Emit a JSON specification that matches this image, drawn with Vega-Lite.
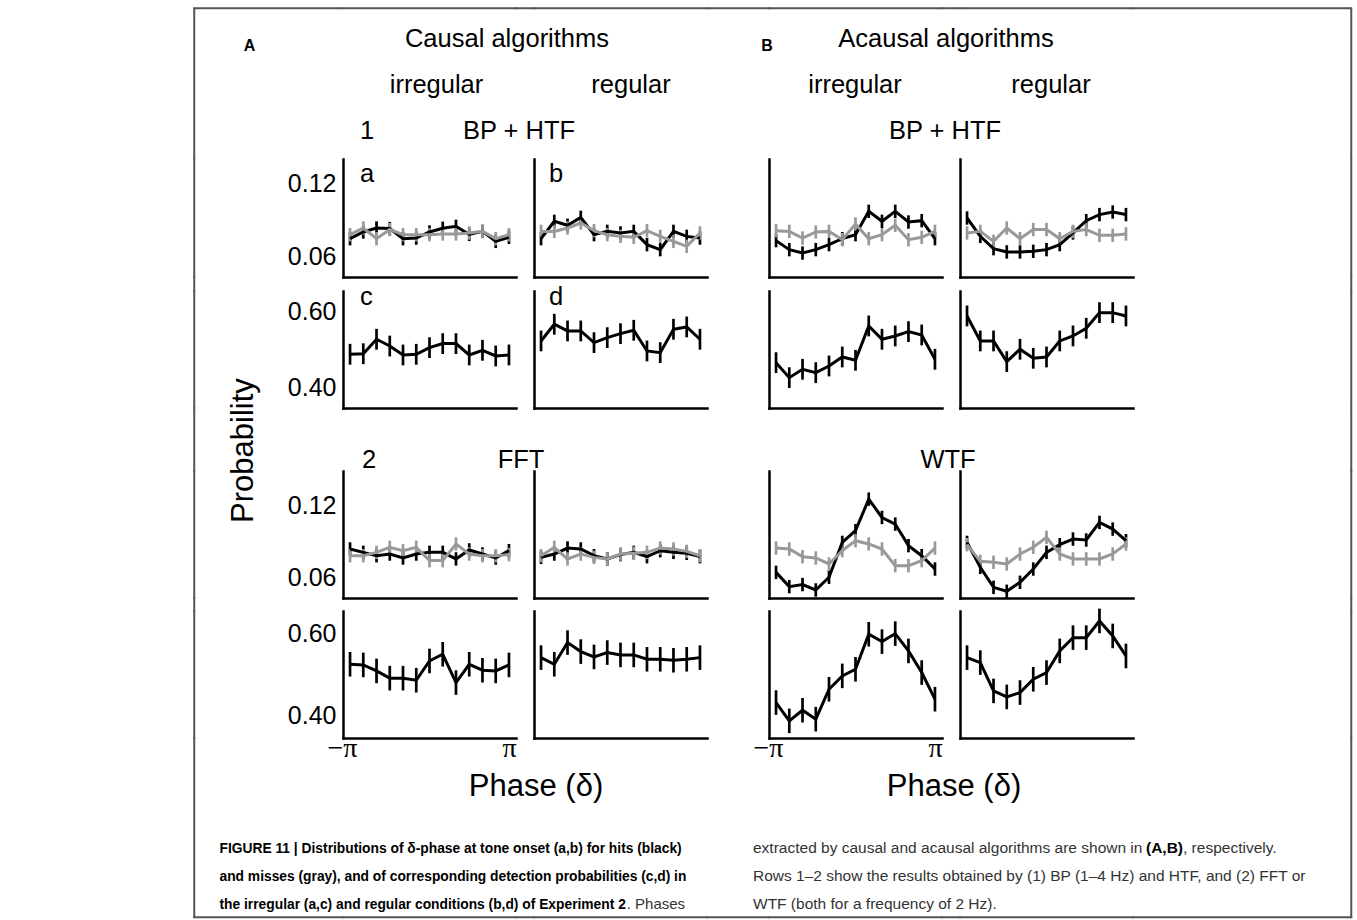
{
"$schema": "https://vega.github.io/schema/vega-lite/v6.json",
"padding": {"left": 193, "top": 7, "right": 5, "bottom": 0},
"background": "white",
"data": {"name": "d"},
"datasets": {"d": [
{"k":"A1a","g":"h","x":-3.1416,"y":0.0745,"e":0.0055},{"k":"A1a","g":"h","x":-2.618,"y":0.08,"e":0.0055},{"k":"A1a","g":"h","x":-2.0944,"y":0.0833,"e":0.0055},{"k":"A1a","g":"h","x":-1.5708,"y":0.0828,"e":0.0055},{"k":"A1a","g":"h","x":-1.0472,"y":0.0745,"e":0.0055},{"k":"A1a","g":"h","x":-0.5236,"y":0.075,"e":0.0055},{"k":"A1a","g":"h","x":0,"y":0.08,"e":0.0055},{"k":"A1a","g":"h","x":0.5236,"y":0.083,"e":0.0055},{"k":"A1a","g":"h","x":1.0472,"y":0.0847,"e":0.0055},{"k":"A1a","g":"h","x":1.5708,"y":0.078,"e":0.0055},{"k":"A1a","g":"h","x":2.0944,"y":0.0805,"e":0.0055},{"k":"A1a","g":"h","x":2.618,"y":0.0723,"e":0.0055},{"k":"A1a","g":"h","x":3.1416,"y":0.0756,"e":0.0055},
{"k":"A1a","g":"m","x":-3.1416,"y":0.0778,"e":0.0055},{"k":"A1a","g":"m","x":-2.618,"y":0.0833,"e":0.0055},{"k":"A1a","g":"m","x":-2.0944,"y":0.0745,"e":0.0055},{"k":"A1a","g":"m","x":-1.5708,"y":0.082,"e":0.0055},{"k":"A1a","g":"m","x":-1.0472,"y":0.0778,"e":0.0055},{"k":"A1a","g":"m","x":-0.5236,"y":0.0778,"e":0.0055},{"k":"A1a","g":"m","x":0,"y":0.0778,"e":0.0055},{"k":"A1a","g":"m","x":0.5236,"y":0.0784,"e":0.0055},{"k":"A1a","g":"m","x":1.0472,"y":0.0784,"e":0.0055},{"k":"A1a","g":"m","x":1.5708,"y":0.0792,"e":0.0055},{"k":"A1a","g":"m","x":2.0944,"y":0.0805,"e":0.0055},{"k":"A1a","g":"m","x":2.618,"y":0.0745,"e":0.0055},{"k":"A1a","g":"m","x":3.1416,"y":0.0778,"e":0.0055},
{"k":"A1b","g":"h","x":-3.1416,"y":0.0745,"e":0.0055},{"k":"A1b","g":"h","x":-2.618,"y":0.0888,"e":0.0055},{"k":"A1b","g":"h","x":-2.0944,"y":0.0855,"e":0.0055},{"k":"A1b","g":"h","x":-1.5708,"y":0.092,"e":0.0055},{"k":"A1b","g":"h","x":-1.0472,"y":0.0778,"e":0.0055},{"k":"A1b","g":"h","x":-0.5236,"y":0.0805,"e":0.0055},{"k":"A1b","g":"h","x":0,"y":0.0792,"e":0.0055},{"k":"A1b","g":"h","x":0.5236,"y":0.0805,"e":0.0055},{"k":"A1b","g":"h","x":1.0472,"y":0.0696,"e":0.0055},{"k":"A1b","g":"h","x":1.5708,"y":0.0655,"e":0.0055},{"k":"A1b","g":"h","x":2.0944,"y":0.0805,"e":0.0055},{"k":"A1b","g":"h","x":2.618,"y":0.0764,"e":0.0055},{"k":"A1b","g":"h","x":3.1416,"y":0.075,"e":0.0055},
{"k":"A1b","g":"m","x":-3.1416,"y":0.0805,"e":0.0055},{"k":"A1b","g":"m","x":-2.618,"y":0.0805,"e":0.0055},{"k":"A1b","g":"m","x":-2.0944,"y":0.0833,"e":0.0055},{"k":"A1b","g":"m","x":-1.5708,"y":0.0874,"e":0.0055},{"k":"A1b","g":"m","x":-1.0472,"y":0.0811,"e":0.0055},{"k":"A1b","g":"m","x":-0.5236,"y":0.0778,"e":0.0055},{"k":"A1b","g":"m","x":0,"y":0.0764,"e":0.0055},{"k":"A1b","g":"m","x":0.5236,"y":0.0756,"e":0.0055},{"k":"A1b","g":"m","x":1.0472,"y":0.0811,"e":0.0055},{"k":"A1b","g":"m","x":1.5708,"y":0.0764,"e":0.0055},{"k":"A1b","g":"m","x":2.0944,"y":0.0723,"e":0.0055},{"k":"A1b","g":"m","x":2.618,"y":0.0682,"e":0.0055},{"k":"A1b","g":"m","x":3.1416,"y":0.0792,"e":0.0055},
{"k":"B1a","g":"h","x":-3.1416,"y":0.0729,"e":0.0055},{"k":"B1a","g":"h","x":-2.618,"y":0.0655,"e":0.0055},{"k":"B1a","g":"h","x":-2.0944,"y":0.0627,"e":0.0055},{"k":"B1a","g":"h","x":-1.5708,"y":0.0655,"e":0.0055},{"k":"B1a","g":"h","x":-1.0472,"y":0.0696,"e":0.0055},{"k":"B1a","g":"h","x":-0.5236,"y":0.0745,"e":0.0055},{"k":"B1a","g":"h","x":0,"y":0.0778,"e":0.0055},{"k":"B1a","g":"h","x":0.5236,"y":0.097,"e":0.0055},{"k":"B1a","g":"h","x":1.0472,"y":0.0888,"e":0.0055},{"k":"B1a","g":"h","x":1.5708,"y":0.097,"e":0.0055},{"k":"B1a","g":"h","x":2.0944,"y":0.0882,"e":0.0055},{"k":"B1a","g":"h","x":2.618,"y":0.0893,"e":0.0055},{"k":"B1a","g":"h","x":3.1416,"y":0.0745,"e":0.0055},
{"k":"B1a","g":"m","x":-3.1416,"y":0.0811,"e":0.0055},{"k":"B1a","g":"m","x":-2.618,"y":0.0805,"e":0.0055},{"k":"B1a","g":"m","x":-2.0944,"y":0.075,"e":0.0055},{"k":"B1a","g":"m","x":-1.5708,"y":0.08,"e":0.0055},{"k":"B1a","g":"m","x":-1.0472,"y":0.0805,"e":0.0055},{"k":"B1a","g":"m","x":-0.5236,"y":0.0737,"e":0.0055},{"k":"B1a","g":"m","x":0,"y":0.0866,"e":0.0055},{"k":"B1a","g":"m","x":0.5236,"y":0.0745,"e":0.0055},{"k":"B1a","g":"m","x":1.0472,"y":0.0778,"e":0.0055},{"k":"B1a","g":"m","x":1.5708,"y":0.0855,"e":0.0055},{"k":"B1a","g":"m","x":2.0944,"y":0.0737,"e":0.0055},{"k":"B1a","g":"m","x":2.618,"y":0.0756,"e":0.0055},{"k":"B1a","g":"m","x":3.1416,"y":0.0805,"e":0.0055},
{"k":"B1b","g":"h","x":-3.1416,"y":0.0915,"e":0.0055},{"k":"B1b","g":"h","x":-2.618,"y":0.0764,"e":0.0055},{"k":"B1b","g":"h","x":-2.0944,"y":0.0663,"e":0.0055},{"k":"B1b","g":"h","x":-1.5708,"y":0.0636,"e":0.0055},{"k":"B1b","g":"h","x":-1.0472,"y":0.0636,"e":0.0055},{"k":"B1b","g":"h","x":-0.5236,"y":0.0641,"e":0.0055},{"k":"B1b","g":"h","x":0,"y":0.0655,"e":0.0055},{"k":"B1b","g":"h","x":0.5236,"y":0.0696,"e":0.0055},{"k":"B1b","g":"h","x":1.0472,"y":0.0792,"e":0.0055},{"k":"B1b","g":"h","x":1.5708,"y":0.0893,"e":0.0055},{"k":"B1b","g":"h","x":2.0944,"y":0.0943,"e":0.0055},{"k":"B1b","g":"h","x":2.618,"y":0.0964,"e":0.0055},{"k":"B1b","g":"h","x":3.1416,"y":0.0943,"e":0.0055},
{"k":"B1b","g":"m","x":-3.1416,"y":0.0792,"e":0.0055},{"k":"B1b","g":"m","x":-2.618,"y":0.0805,"e":0.0055},{"k":"B1b","g":"m","x":-2.0944,"y":0.0723,"e":0.0055},{"k":"B1b","g":"m","x":-1.5708,"y":0.0833,"e":0.0055},{"k":"B1b","g":"m","x":-1.0472,"y":0.0745,"e":0.0055},{"k":"B1b","g":"m","x":-0.5236,"y":0.082,"e":0.0055},{"k":"B1b","g":"m","x":0,"y":0.082,"e":0.0055},{"k":"B1b","g":"m","x":0.5236,"y":0.0745,"e":0.0055},{"k":"B1b","g":"m","x":1.0472,"y":0.0805,"e":0.0055},{"k":"B1b","g":"m","x":1.5708,"y":0.082,"e":0.0055},{"k":"B1b","g":"m","x":2.0944,"y":0.0773,"e":0.0055},{"k":"B1b","g":"m","x":2.618,"y":0.0773,"e":0.0055},{"k":"B1b","g":"m","x":3.1416,"y":0.0784,"e":0.0055},
{"k":"A2a","g":"h","x":-3.1416,"y":0.4876,"e":0.027},{"k":"A2a","g":"h","x":-2.618,"y":0.489,"e":0.027},{"k":"A2a","g":"h","x":-2.0944,"y":0.5266,"e":0.027},{"k":"A2a","g":"h","x":-1.5708,"y":0.509,"e":0.027},{"k":"A2a","g":"h","x":-1.0472,"y":0.4858,"e":0.027},{"k":"A2a","g":"h","x":-0.5236,"y":0.4876,"e":0.027},{"k":"A2a","g":"h","x":0,"y":0.5048,"e":0.027},{"k":"A2a","g":"h","x":0.5236,"y":0.5153,"e":0.027},{"k":"A2a","g":"h","x":1.0472,"y":0.5153,"e":0.027},{"k":"A2a","g":"h","x":1.5708,"y":0.4858,"e":0.027},{"k":"A2a","g":"h","x":2.0944,"y":0.498,"e":0.027},{"k":"A2a","g":"h","x":2.618,"y":0.4832,"e":0.027},{"k":"A2a","g":"h","x":3.1416,"y":0.4858,"e":0.027},
{"k":"A2b","g":"h","x":-3.1416,"y":0.5222,"e":0.027},{"k":"A2b","g":"h","x":-2.618,"y":0.5656,"e":0.027},{"k":"A2b","g":"h","x":-2.0944,"y":0.5482,"e":0.027},{"k":"A2b","g":"h","x":-1.5708,"y":0.5482,"e":0.027},{"k":"A2b","g":"h","x":-1.0472,"y":0.5178,"e":0.027},{"k":"A2b","g":"h","x":-0.5236,"y":0.5308,"e":0.027},{"k":"A2b","g":"h","x":0,"y":0.5412,"e":0.027},{"k":"A2b","g":"h","x":0.5236,"y":0.55,"e":0.027},{"k":"A2b","g":"h","x":1.0472,"y":0.4962,"e":0.027},{"k":"A2b","g":"h","x":1.5708,"y":0.4918,"e":0.027},{"k":"A2b","g":"h","x":2.0944,"y":0.5526,"e":0.027},{"k":"A2b","g":"h","x":2.618,"y":0.5586,"e":0.027},{"k":"A2b","g":"h","x":3.1416,"y":0.5266,"e":0.027},
{"k":"B2a","g":"h","x":-3.1416,"y":0.4658,"e":0.027},{"k":"B2a","g":"h","x":-2.618,"y":0.4268,"e":0.027},{"k":"B2a","g":"h","x":-2.0944,"y":0.4486,"e":0.027},{"k":"B2a","g":"h","x":-1.5708,"y":0.4398,"e":0.027},{"k":"B2a","g":"h","x":-1.0472,"y":0.4572,"e":0.027},{"k":"B2a","g":"h","x":-0.5236,"y":0.4806,"e":0.027},{"k":"B2a","g":"h","x":0,"y":0.472,"e":0.027},{"k":"B2a","g":"h","x":0.5236,"y":0.5612,"e":0.027},{"k":"B2a","g":"h","x":1.0472,"y":0.5266,"e":0.027},{"k":"B2a","g":"h","x":1.5708,"y":0.5352,"e":0.027},{"k":"B2a","g":"h","x":2.0944,"y":0.5464,"e":0.027},{"k":"B2a","g":"h","x":2.618,"y":0.5378,"e":0.027},{"k":"B2a","g":"h","x":3.1416,"y":0.4746,"e":0.027},
{"k":"B2b","g":"h","x":-3.1416,"y":0.5872,"e":0.027},{"k":"B2b","g":"h","x":-2.618,"y":0.5222,"e":0.027},{"k":"B2b","g":"h","x":-2.0944,"y":0.5222,"e":0.027},{"k":"B2b","g":"h","x":-1.5708,"y":0.4684,"e":0.027},{"k":"B2b","g":"h","x":-1.0472,"y":0.5006,"e":0.027},{"k":"B2b","g":"h","x":-0.5236,"y":0.4772,"e":0.027},{"k":"B2b","g":"h","x":0,"y":0.4806,"e":0.027},{"k":"B2b","g":"h","x":0.5236,"y":0.5222,"e":0.027},{"k":"B2b","g":"h","x":1.0472,"y":0.5352,"e":0.027},{"k":"B2b","g":"h","x":1.5708,"y":0.5552,"e":0.027},{"k":"B2b","g":"h","x":2.0944,"y":0.5958,"e":0.027},{"k":"B2b","g":"h","x":2.618,"y":0.5958,"e":0.027},{"k":"B2b","g":"h","x":3.1416,"y":0.5872,"e":0.027},
{"k":"A3a","g":"h","x":-3.1416,"y":0.0839,"e":0.0056},{"k":"A3a","g":"h","x":-2.618,"y":0.0811,"e":0.0056},{"k":"A3a","g":"h","x":-2.0944,"y":0.0783,"e":0.0056},{"k":"A3a","g":"h","x":-1.5708,"y":0.0797,"e":0.0056},{"k":"A3a","g":"h","x":-1.0472,"y":0.0764,"e":0.0056},{"k":"A3a","g":"h","x":-0.5236,"y":0.0797,"e":0.0056},{"k":"A3a","g":"h","x":0,"y":0.0811,"e":0.0056},{"k":"A3a","g":"h","x":0.5236,"y":0.0811,"e":0.0056},{"k":"A3a","g":"h","x":1.0472,"y":0.0756,"e":0.0056},{"k":"A3a","g":"h","x":1.5708,"y":0.0831,"e":0.0056},{"k":"A3a","g":"h","x":2.0944,"y":0.0797,"e":0.0056},{"k":"A3a","g":"h","x":2.618,"y":0.0764,"e":0.0056},{"k":"A3a","g":"h","x":3.1416,"y":0.0825,"e":0.0056},
{"k":"A3a","g":"m","x":-3.1416,"y":0.0783,"e":0.0056},{"k":"A3a","g":"m","x":-2.618,"y":0.0783,"e":0.0056},{"k":"A3a","g":"m","x":-2.0944,"y":0.0811,"e":0.0056},{"k":"A3a","g":"m","x":-1.5708,"y":0.0853,"e":0.0056},{"k":"A3a","g":"m","x":-1.0472,"y":0.0825,"e":0.0056},{"k":"A3a","g":"m","x":-0.5236,"y":0.0853,"e":0.0056},{"k":"A3a","g":"m","x":0,"y":0.0742,"e":0.0056},{"k":"A3a","g":"m","x":0.5236,"y":0.0742,"e":0.0056},{"k":"A3a","g":"m","x":1.0472,"y":0.0881,"e":0.0056},{"k":"A3a","g":"m","x":1.5708,"y":0.0797,"e":0.0056},{"k":"A3a","g":"m","x":2.0944,"y":0.0783,"e":0.0056},{"k":"A3a","g":"m","x":2.618,"y":0.0783,"e":0.0056},{"k":"A3a","g":"m","x":3.1416,"y":0.0792,"e":0.0056},
{"k":"A3b","g":"h","x":-3.1416,"y":0.0769,"e":0.0056},{"k":"A3b","g":"h","x":-2.618,"y":0.0797,"e":0.0056},{"k":"A3b","g":"h","x":-2.0944,"y":0.0847,"e":0.0056},{"k":"A3b","g":"h","x":-1.5708,"y":0.0839,"e":0.0056},{"k":"A3b","g":"h","x":-1.0472,"y":0.0783,"e":0.0056},{"k":"A3b","g":"h","x":-0.5236,"y":0.0756,"e":0.0056},{"k":"A3b","g":"h","x":0,"y":0.0792,"e":0.0056},{"k":"A3b","g":"h","x":0.5236,"y":0.0811,"e":0.0056},{"k":"A3b","g":"h","x":1.0472,"y":0.0775,"e":0.0056},{"k":"A3b","g":"h","x":1.5708,"y":0.0825,"e":0.0056},{"k":"A3b","g":"h","x":2.0944,"y":0.0811,"e":0.0056},{"k":"A3b","g":"h","x":2.618,"y":0.0803,"e":0.0056},{"k":"A3b","g":"h","x":3.1416,"y":0.0775,"e":0.0056},
{"k":"A3b","g":"m","x":-3.1416,"y":0.0783,"e":0.0056},{"k":"A3b","g":"m","x":-2.618,"y":0.0853,"e":0.0056},{"k":"A3b","g":"m","x":-2.0944,"y":0.0756,"e":0.0056},{"k":"A3b","g":"m","x":-1.5708,"y":0.0797,"e":0.0056},{"k":"A3b","g":"m","x":-1.0472,"y":0.0769,"e":0.0056},{"k":"A3b","g":"m","x":-0.5236,"y":0.0756,"e":0.0056},{"k":"A3b","g":"m","x":0,"y":0.0797,"e":0.0056},{"k":"A3b","g":"m","x":0.5236,"y":0.0803,"e":0.0056},{"k":"A3b","g":"m","x":1.0472,"y":0.0811,"e":0.0056},{"k":"A3b","g":"m","x":1.5708,"y":0.0847,"e":0.0056},{"k":"A3b","g":"m","x":2.0944,"y":0.0839,"e":0.0056},{"k":"A3b","g":"m","x":2.618,"y":0.0819,"e":0.0056},{"k":"A3b","g":"m","x":3.1416,"y":0.0783,"e":0.0056},
{"k":"B3a","g":"h","x":-3.1416,"y":0.0644,"e":0.0056},{"k":"B3a","g":"h","x":-2.618,"y":0.0525,"e":0.0056},{"k":"B3a","g":"h","x":-2.0944,"y":0.0542,"e":0.0056},{"k":"B3a","g":"h","x":-1.5708,"y":0.0497,"e":0.0056},{"k":"B3a","g":"h","x":-1.0472,"y":0.0603,"e":0.0056},{"k":"B3a","g":"h","x":-0.5236,"y":0.0894,"e":0.0056},{"k":"B3a","g":"h","x":0,"y":0.0992,"e":0.0056},{"k":"B3a","g":"h","x":0.5236,"y":0.1255,"e":0.0056},{"k":"B3a","g":"h","x":1.0472,"y":0.1102,"e":0.0056},{"k":"B3a","g":"h","x":1.5708,"y":0.1047,"e":0.0056},{"k":"B3a","g":"h","x":2.0944,"y":0.0867,"e":0.0056},{"k":"B3a","g":"h","x":2.618,"y":0.0783,"e":0.0056},{"k":"B3a","g":"h","x":3.1416,"y":0.0672,"e":0.0056},
{"k":"B3a","g":"m","x":-3.1416,"y":0.0847,"e":0.0056},{"k":"B3a","g":"m","x":-2.618,"y":0.0839,"e":0.0056},{"k":"B3a","g":"m","x":-2.0944,"y":0.0775,"e":0.0056},{"k":"B3a","g":"m","x":-1.5708,"y":0.0764,"e":0.0056},{"k":"B3a","g":"m","x":-1.0472,"y":0.0714,"e":0.0056},{"k":"B3a","g":"m","x":-0.5236,"y":0.0825,"e":0.0056},{"k":"B3a","g":"m","x":0,"y":0.0908,"e":0.0056},{"k":"B3a","g":"m","x":0.5236,"y":0.0881,"e":0.0056},{"k":"B3a","g":"m","x":1.0472,"y":0.0839,"e":0.0056},{"k":"B3a","g":"m","x":1.5708,"y":0.07,"e":0.0056},{"k":"B3a","g":"m","x":2.0944,"y":0.07,"e":0.0056},{"k":"B3a","g":"m","x":2.618,"y":0.0742,"e":0.0056},{"k":"B3a","g":"m","x":3.1416,"y":0.0847,"e":0.0056},
{"k":"B3b","g":"h","x":-3.1416,"y":0.0894,"e":0.0056},{"k":"B3b","g":"h","x":-2.618,"y":0.0686,"e":0.0056},{"k":"B3b","g":"h","x":-2.0944,"y":0.0519,"e":0.0056},{"k":"B3b","g":"h","x":-1.5708,"y":0.0486,"e":0.0056},{"k":"B3b","g":"h","x":-1.0472,"y":0.0561,"e":0.0056},{"k":"B3b","g":"h","x":-0.5236,"y":0.0672,"e":0.0056},{"k":"B3b","g":"h","x":0,"y":0.0811,"e":0.0056},{"k":"B3b","g":"h","x":0.5236,"y":0.0875,"e":0.0056},{"k":"B3b","g":"h","x":1.0472,"y":0.0922,"e":0.0056},{"k":"B3b","g":"h","x":1.5708,"y":0.0914,"e":0.0056},{"k":"B3b","g":"h","x":2.0944,"y":0.1061,"e":0.0056},{"k":"B3b","g":"h","x":2.618,"y":0.1005,"e":0.0056},{"k":"B3b","g":"h","x":3.1416,"y":0.0908,"e":0.0056},
{"k":"B3b","g":"m","x":-3.1416,"y":0.0875,"e":0.0056},{"k":"B3b","g":"m","x":-2.618,"y":0.0736,"e":0.0056},{"k":"B3b","g":"m","x":-2.0944,"y":0.0728,"e":0.0056},{"k":"B3b","g":"m","x":-1.5708,"y":0.0714,"e":0.0056},{"k":"B3b","g":"m","x":-1.0472,"y":0.0797,"e":0.0056},{"k":"B3b","g":"m","x":-0.5236,"y":0.0853,"e":0.0056},{"k":"B3b","g":"m","x":0,"y":0.0936,"e":0.0056},{"k":"B3b","g":"m","x":0.5236,"y":0.0797,"e":0.0056},{"k":"B3b","g":"m","x":1.0472,"y":0.0756,"e":0.0056},{"k":"B3b","g":"m","x":1.5708,"y":0.0756,"e":0.0056},{"k":"B3b","g":"m","x":2.0944,"y":0.0756,"e":0.0056},{"k":"B3b","g":"m","x":2.618,"y":0.0797,"e":0.0056},{"k":"B3b","g":"m","x":3.1416,"y":0.0881,"e":0.0056},
{"k":"A4a","g":"h","x":-3.1416,"y":0.526,"e":0.03},{"k":"A4a","g":"h","x":-2.618,"y":0.5244,"e":0.03},{"k":"A4a","g":"h","x":-2.0944,"y":0.5098,"e":0.03},{"k":"A4a","g":"h","x":-1.5708,"y":0.492,"e":0.03},{"k":"A4a","g":"h","x":-1.0472,"y":0.492,"e":0.03},{"k":"A4a","g":"h","x":-0.5236,"y":0.487,"e":0.03},{"k":"A4a","g":"h","x":0,"y":0.5341,"e":0.03},{"k":"A4a","g":"h","x":0.5236,"y":0.5504,"e":0.03},{"k":"A4a","g":"h","x":1.0472,"y":0.4813,"e":0.03},{"k":"A4a","g":"h","x":1.5708,"y":0.526,"e":0.03},{"k":"A4a","g":"h","x":2.0944,"y":0.5114,"e":0.03},{"k":"A4a","g":"h","x":2.618,"y":0.5098,"e":0.03},{"k":"A4a","g":"h","x":3.1416,"y":0.5244,"e":0.03},
{"k":"A4b","g":"h","x":-3.1416,"y":0.5422,"e":0.03},{"k":"A4b","g":"h","x":-2.618,"y":0.526,"e":0.03},{"k":"A4b","g":"h","x":-2.0944,"y":0.5789,"e":0.03},{"k":"A4b","g":"h","x":-1.5708,"y":0.5569,"e":0.03},{"k":"A4b","g":"h","x":-1.0472,"y":0.5439,"e":0.03},{"k":"A4b","g":"h","x":-0.5236,"y":0.5545,"e":0.03},{"k":"A4b","g":"h","x":0,"y":0.5488,"e":0.03},{"k":"A4b","g":"h","x":0.5236,"y":0.5488,"e":0.03},{"k":"A4b","g":"h","x":1.0472,"y":0.5382,"e":0.03},{"k":"A4b","g":"h","x":1.5708,"y":0.5382,"e":0.03},{"k":"A4b","g":"h","x":2.0944,"y":0.5358,"e":0.03},{"k":"A4b","g":"h","x":2.618,"y":0.5382,"e":0.03},{"k":"A4b","g":"h","x":3.1416,"y":0.5422,"e":0.03},
{"k":"B4a","g":"h","x":-3.1416,"y":0.4325,"e":0.03},{"k":"B4a","g":"h","x":-2.618,"y":0.3878,"e":0.03},{"k":"B4a","g":"h","x":-2.0944,"y":0.4138,"e":0.03},{"k":"B4a","g":"h","x":-1.5708,"y":0.3919,"e":0.03},{"k":"B4a","g":"h","x":-1.0472,"y":0.465,"e":0.03},{"k":"B4a","g":"h","x":-0.5236,"y":0.4976,"e":0.03},{"k":"B4a","g":"h","x":0,"y":0.5138,"e":0.03},{"k":"B4a","g":"h","x":0.5236,"y":0.5992,"e":0.03},{"k":"B4a","g":"h","x":1.0472,"y":0.5813,"e":0.03},{"k":"B4a","g":"h","x":1.5708,"y":0.6008,"e":0.03},{"k":"B4a","g":"h","x":2.0944,"y":0.5585,"e":0.03},{"k":"B4a","g":"h","x":2.618,"y":0.5057,"e":0.03},{"k":"B4a","g":"h","x":3.1416,"y":0.4407,"e":0.03},
{"k":"B4b","g":"h","x":-3.1416,"y":0.5422,"e":0.03},{"k":"B4b","g":"h","x":-2.618,"y":0.53,"e":0.03},{"k":"B4b","g":"h","x":-2.0944,"y":0.461,"e":0.03},{"k":"B4b","g":"h","x":-1.5708,"y":0.4463,"e":0.03},{"k":"B4b","g":"h","x":-1.0472,"y":0.4569,"e":0.03},{"k":"B4b","g":"h","x":-0.5236,"y":0.4894,"e":0.03},{"k":"B4b","g":"h","x":0,"y":0.5057,"e":0.03},{"k":"B4b","g":"h","x":0.5236,"y":0.5585,"e":0.03},{"k":"B4b","g":"h","x":1.0472,"y":0.591,"e":0.03},{"k":"B4b","g":"h","x":1.5708,"y":0.591,"e":0.03},{"k":"B4b","g":"h","x":2.0944,"y":0.6317,"e":0.03},{"k":"B4b","g":"h","x":2.618,"y":0.5951,"e":0.03},{"k":"B4b","g":"h","x":3.1416,"y":0.5463,"e":0.03}
]},
"config": {
  "view": {"stroke": null},
  "axis": {"domainColor": "#000000", "domainWidth": 2.5, "domainCap": "square", "ticks": false, "grid": false, "labels": false, "labelColor": "#000000", "labelFont": "Liberation Sans", "labelFontSize": 25, "labelPadding": 7, "labelFlush": false, "labelOverlap": false},
  "title": {"font": "Liberation Sans", "fontSize": 25.5, "fontWeight": "normal", "color": "#000000", "baseline": "alphabetic", "frame": "group"},
  "text": {"font": "Liberation Sans", "fontSize": 25.5, "color": "#000000", "baseline": "alphabetic"},
  "concat": {"spacing": 0}
},
"columns": 11,
"spacing": 0,
"bounds": "flush",
"align": "each",
"concat": [
{"width":0.5,"height":0.5,"data":{"values":[]},"mark":"text","view":{"stroke":"#555555","strokeWidth":1.5}},
{"width":147.5,"height":0.5,"data":{"values":[]},"mark":"text","view":{"stroke":"#555555","strokeWidth":1.5}},
{"width":173,"height":0.5,"data":{"values":[]},"mark":"text","view":{"stroke":"#555555","strokeWidth":1.5}},
{"width":18,"height":0.5,"data":{"values":[]},"mark":"text","view":{"stroke":"#555555","strokeWidth":1.5}},
{"width":173,"height":0.5,"data":{"values":[]},"mark":"text","view":{"stroke":"#555555","strokeWidth":1.5}},
{"width":62,"height":0.5,"data":{"values":[]},"mark":"text","view":{"stroke":"#555555","strokeWidth":1.5}},
{"width":173,"height":0.5,"data":{"values":[]},"mark":"text","view":{"stroke":"#555555","strokeWidth":1.5}},
{"width":18,"height":0.5,"data":{"values":[]},"mark":"text","view":{"stroke":"#555555","strokeWidth":1.5}},
{"width":173,"height":0.5,"data":{"values":[]},"mark":"text","view":{"stroke":"#555555","strokeWidth":1.5}},
{"width":217.5,"height":0.5,"data":{"values":[]},"mark":"text","view":{"stroke":"#555555","strokeWidth":1.5}},
{"width":0.5,"height":0.5,"data":{"values":[]},"mark":"text","view":{"stroke":"#555555","strokeWidth":1.5}},

{"width":0.5,"height":149.5,"data":{"values":[]},"mark":"text","view":{"stroke":"#555555","strokeWidth":1.5}},
{"width":147.5,"height":149.5,"data":{"values":[{}]},"mark":{"type":"text","text":"A","fontWeight":"bold","fontSize":16,"dx":-19.25,"dy":-33.25}},
{"width":173,"height":149.5,"data":{"values":[{}]},"layer":[{"mark":{"type":"text","text":"irregular","dx":7,"dy":9.45}},{"mark":{"type":"text","text":"1","dx":-62.5,"dy":54.75}}]},
{"width":18,"height":149.5,"data":{"values":[{}]},"layer":[{"mark":{"type":"text","text":"Causal algorithms","dx":-18,"dy":-36.55}},{"mark":{"type":"text","text":"BP + HTF","dx":-6,"dy":54.75}}]},
{"width":173,"height":149.5,"data":{"values":[{}]},"mark":{"type":"text","text":"regular","dx":10.5,"dy":9.45}},
{"width":62,"height":149.5,"data":{"values":[{}]},"mark":{"type":"text","text":"B","fontWeight":"bold","fontSize":16,"dx":29,"dy":-33.25}},
{"width":173,"height":149.5,"data":{"values":[{}]},"mark":{"type":"text","text":"irregular","dx":-0.5,"dy":9.45}},
{"width":18,"height":149.5,"data":{"values":[{}]},"layer":[{"mark":{"type":"text","text":"Acausal algorithms","dx":-5,"dy":-36.55}},{"mark":{"type":"text","text":"BP + HTF","dx":-6,"dy":54.75}}]},
{"width":173,"height":149.5,"data":{"values":[{}]},"mark":{"type":"text","text":"regular","dx":4.5,"dy":9.45}},
{"width":1,"height":1,"data":{"values":[]},"mark":"text"},
{"width":0.5,"height":149.5,"data":{"values":[]},"mark":"text","view":{"stroke":"#555555","strokeWidth":1.5}},

{"width":0.5,"height":118,"data":{"values":[]},"mark":"text","view":{"stroke":"#555555","strokeWidth":1.5}},
{"width":1,"height":1,"data":{"values":[]},"mark":"text"},
{"width":173,"height":118,"title":{"text":"a","anchor":"start","dx":17,"offset":-28.25},"transform":[{"filter":"datum.k === 'A1a'"}],"encoding":{"x":{"field":"x","type":"quantitative","title":null,"scale":{"domain":[-3.42,3.42]}},"y":{"field":"y","type":"quantitative","title":null,"scale":{"domain":[0.043,0.14]},"axis":{"labels":true,"values":[0.06,0.12],"format":".2f"}},"color":{"field":"g","type":"nominal","legend":null,"scale":{"domain":["h","m"],"range":["#000000","#999999"]}}},"layer":[{"mark":{"type":"errorbar","thickness":2.7},"encoding":{"yError":{"field":"e"}}},{"mark":{"type":"line","strokeWidth":3}}]},
{"width":1,"height":1,"data":{"values":[]},"mark":"text"},
{"width":173,"height":118,"title":{"text":"b","anchor":"start","dx":15,"offset":-28.25},"transform":[{"filter":"datum.k === 'A1b'"}],"encoding":{"x":{"field":"x","type":"quantitative","title":null,"scale":{"domain":[-3.42,3.42]}},"y":{"field":"y","type":"quantitative","title":null,"scale":{"domain":[0.043,0.14]}},"color":{"field":"g","type":"nominal","legend":null,"scale":{"domain":["h","m"],"range":["#000000","#999999"]}}},"layer":[{"mark":{"type":"errorbar","thickness":2.7},"encoding":{"yError":{"field":"e"}}},{"mark":{"type":"line","strokeWidth":3}}]},
{"width":1,"height":1,"data":{"values":[]},"mark":"text"},
{"width":173,"height":118,"transform":[{"filter":"datum.k === 'B1a'"}],"encoding":{"x":{"field":"x","type":"quantitative","title":null,"scale":{"domain":[-3.42,3.42]}},"y":{"field":"y","type":"quantitative","title":null,"scale":{"domain":[0.043,0.14]}},"color":{"field":"g","type":"nominal","legend":null,"scale":{"domain":["h","m"],"range":["#000000","#999999"]}}},"layer":[{"mark":{"type":"errorbar","thickness":2.7},"encoding":{"yError":{"field":"e"}}},{"mark":{"type":"line","strokeWidth":3}}]},
{"width":1,"height":1,"data":{"values":[]},"mark":"text"},
{"width":173,"height":118,"transform":[{"filter":"datum.k === 'B1b'"}],"encoding":{"x":{"field":"x","type":"quantitative","title":null,"scale":{"domain":[-3.42,3.42]}},"y":{"field":"y","type":"quantitative","title":null,"scale":{"domain":[0.043,0.14]}},"color":{"field":"g","type":"nominal","legend":null,"scale":{"domain":["h","m"],"range":["#000000","#999999"]}}},"layer":[{"mark":{"type":"errorbar","thickness":2.7},"encoding":{"yError":{"field":"e"}}},{"mark":{"type":"line","strokeWidth":3}}]},
{"width":1,"height":1,"data":{"values":[]},"mark":"text"},
{"width":0.5,"height":118,"data":{"values":[]},"mark":"text","view":{"stroke":"#555555","strokeWidth":1.5}},

{"width":0.5,"height":14,"data":{"values":[]},"mark":"text","view":{"stroke":"#555555","strokeWidth":1.5}},
{"width":1,"height":1,"data":{"values":[]},"mark":"text"},
{"width":1,"height":1,"data":{"values":[]},"mark":"text"},
{"width":1,"height":1,"data":{"values":[]},"mark":"text"},
{"width":1,"height":1,"data":{"values":[]},"mark":"text"},
{"width":1,"height":1,"data":{"values":[]},"mark":"text"},
{"width":1,"height":1,"data":{"values":[]},"mark":"text"},
{"width":1,"height":1,"data":{"values":[]},"mark":"text"},
{"width":1,"height":1,"data":{"values":[]},"mark":"text"},
{"width":1,"height":1,"data":{"values":[]},"mark":"text"},
{"width":0.5,"height":14,"data":{"values":[]},"mark":"text","view":{"stroke":"#555555","strokeWidth":1.5}},

{"width":0.5,"height":117,"data":{"values":[]},"mark":"text","view":{"stroke":"#555555","strokeWidth":1.5}},
{"width":1,"height":1,"data":{"values":[]},"mark":"text"},
{"width":173,"height":117,"title":{"text":"c","anchor":"start","dx":17,"offset":-19.25},"transform":[{"filter":"datum.k === 'A2a'"}],"encoding":{"x":{"field":"x","type":"quantitative","title":null,"scale":{"domain":[-3.42,3.42]}},"y":{"field":"y","type":"quantitative","title":null,"scale":{"domain":[0.348,0.652]},"axis":{"labels":true,"values":[0.4,0.6],"format":".2f"}},"color":{"field":"g","type":"nominal","legend":null,"scale":{"domain":["h","m"],"range":["#000000","#999999"]}}},"layer":[{"mark":{"type":"errorbar","thickness":2.7},"encoding":{"yError":{"field":"e"}}},{"mark":{"type":"line","strokeWidth":3}}]},
{"width":1,"height":1,"data":{"values":[]},"mark":"text"},
{"width":173,"height":117,"title":{"text":"d","anchor":"start","dx":15,"offset":-19.25},"transform":[{"filter":"datum.k === 'A2b'"}],"encoding":{"x":{"field":"x","type":"quantitative","title":null,"scale":{"domain":[-3.42,3.42]}},"y":{"field":"y","type":"quantitative","title":null,"scale":{"domain":[0.348,0.652]}},"color":{"field":"g","type":"nominal","legend":null,"scale":{"domain":["h","m"],"range":["#000000","#999999"]}}},"layer":[{"mark":{"type":"errorbar","thickness":2.7},"encoding":{"yError":{"field":"e"}}},{"mark":{"type":"line","strokeWidth":3}}]},
{"width":1,"height":1,"data":{"values":[]},"mark":"text"},
{"width":173,"height":117,"transform":[{"filter":"datum.k === 'B2a'"}],"encoding":{"x":{"field":"x","type":"quantitative","title":null,"scale":{"domain":[-3.42,3.42]}},"y":{"field":"y","type":"quantitative","title":null,"scale":{"domain":[0.348,0.652]}},"color":{"field":"g","type":"nominal","legend":null,"scale":{"domain":["h","m"],"range":["#000000","#999999"]}}},"layer":[{"mark":{"type":"errorbar","thickness":2.7},"encoding":{"yError":{"field":"e"}}},{"mark":{"type":"line","strokeWidth":3}}]},
{"width":1,"height":1,"data":{"values":[]},"mark":"text"},
{"width":173,"height":117,"transform":[{"filter":"datum.k === 'B2b'"}],"encoding":{"x":{"field":"x","type":"quantitative","title":null,"scale":{"domain":[-3.42,3.42]}},"y":{"field":"y","type":"quantitative","title":null,"scale":{"domain":[0.348,0.652]}},"color":{"field":"g","type":"nominal","legend":null,"scale":{"domain":["h","m"],"range":["#000000","#999999"]}}},"layer":[{"mark":{"type":"errorbar","thickness":2.7},"encoding":{"yError":{"field":"e"}}},{"mark":{"type":"line","strokeWidth":3}}]},
{"width":1,"height":1,"data":{"values":[]},"mark":"text"},
{"width":0.5,"height":117,"data":{"values":[]},"mark":"text","view":{"stroke":"#555555","strokeWidth":1.5}},

{"width":0.5,"height":63,"data":{"values":[]},"mark":"text","view":{"stroke":"#555555","strokeWidth":1.5}},
{"width":147.5,"height":63,"data":{"values":[{}]},"mark":{"type":"text","text":"Probability","angle":270,"fontSize":31,"dx":-11,"dy":-16.25}},
{"width":173,"height":63,"data":{"values":[{}]},"mark":{"type":"text","text":"2","dx":-60.5,"dy":28.5}},
{"width":18,"height":63,"data":{"values":[{}]},"mark":{"type":"text","text":"FFT","dx":-4,"dy":28.5}},
{"width":1,"height":1,"data":{"values":[]},"mark":"text"},
{"width":1,"height":1,"data":{"values":[]},"mark":"text"},
{"width":1,"height":1,"data":{"values":[]},"mark":"text"},
{"width":18,"height":63,"data":{"values":[{}]},"mark":{"type":"text","text":"WTF","dx":-3,"dy":28.5}},
{"width":1,"height":1,"data":{"values":[]},"mark":"text"},
{"width":1,"height":1,"data":{"values":[]},"mark":"text"},
{"width":0.5,"height":63,"data":{"values":[]},"mark":"text","view":{"stroke":"#555555","strokeWidth":1.5}},

{"width":0.5,"height":127,"data":{"values":[]},"mark":"text","view":{"stroke":"#555555","strokeWidth":1.5}},
{"width":1,"height":1,"data":{"values":[]},"mark":"text"},
{"width":173,"height":127,"transform":[{"filter":"datum.k === 'A3a'"}],"encoding":{"x":{"field":"x","type":"quantitative","title":null,"scale":{"domain":[-3.42,3.42]}},"y":{"field":"y","type":"quantitative","title":null,"scale":{"domain":[0.043,0.149]},"axis":{"labels":true,"values":[0.06,0.12],"format":".2f"}},"color":{"field":"g","type":"nominal","legend":null,"scale":{"domain":["h","m"],"range":["#000000","#999999"]}}},"layer":[{"mark":{"type":"errorbar","thickness":2.7},"encoding":{"yError":{"field":"e"}}},{"mark":{"type":"line","strokeWidth":3}}]},
{"width":1,"height":1,"data":{"values":[]},"mark":"text"},
{"width":173,"height":127,"transform":[{"filter":"datum.k === 'A3b'"}],"encoding":{"x":{"field":"x","type":"quantitative","title":null,"scale":{"domain":[-3.42,3.42]}},"y":{"field":"y","type":"quantitative","title":null,"scale":{"domain":[0.043,0.149]}},"color":{"field":"g","type":"nominal","legend":null,"scale":{"domain":["h","m"],"range":["#000000","#999999"]}}},"layer":[{"mark":{"type":"errorbar","thickness":2.7},"encoding":{"yError":{"field":"e"}}},{"mark":{"type":"line","strokeWidth":3}}]},
{"width":1,"height":1,"data":{"values":[]},"mark":"text"},
{"width":173,"height":127,"transform":[{"filter":"datum.k === 'B3a'"}],"encoding":{"x":{"field":"x","type":"quantitative","title":null,"scale":{"domain":[-3.42,3.42]}},"y":{"field":"y","type":"quantitative","title":null,"scale":{"domain":[0.043,0.149]}},"color":{"field":"g","type":"nominal","legend":null,"scale":{"domain":["h","m"],"range":["#000000","#999999"]}}},"layer":[{"mark":{"type":"errorbar","thickness":2.7},"encoding":{"yError":{"field":"e"}}},{"mark":{"type":"line","strokeWidth":3}}]},
{"width":1,"height":1,"data":{"values":[]},"mark":"text"},
{"width":173,"height":127,"transform":[{"filter":"datum.k === 'B3b'"}],"encoding":{"x":{"field":"x","type":"quantitative","title":null,"scale":{"domain":[-3.42,3.42]}},"y":{"field":"y","type":"quantitative","title":null,"scale":{"domain":[0.043,0.149]}},"color":{"field":"g","type":"nominal","legend":null,"scale":{"domain":["h","m"],"range":["#000000","#999999"]}}},"layer":[{"mark":{"type":"errorbar","thickness":2.7},"encoding":{"yError":{"field":"e"}}},{"mark":{"type":"line","strokeWidth":3}}]},
{"width":1,"height":1,"data":{"values":[]},"mark":"text"},
{"width":0.5,"height":127,"data":{"values":[]},"mark":"text","view":{"stroke":"#555555","strokeWidth":1.5}},

{"width":0.5,"height":13,"data":{"values":[]},"mark":"text","view":{"stroke":"#555555","strokeWidth":1.5}},
{"width":1,"height":1,"data":{"values":[]},"mark":"text"},
{"width":1,"height":1,"data":{"values":[]},"mark":"text"},
{"width":1,"height":1,"data":{"values":[]},"mark":"text"},
{"width":1,"height":1,"data":{"values":[]},"mark":"text"},
{"width":1,"height":1,"data":{"values":[]},"mark":"text"},
{"width":1,"height":1,"data":{"values":[]},"mark":"text"},
{"width":1,"height":1,"data":{"values":[]},"mark":"text"},
{"width":1,"height":1,"data":{"values":[]},"mark":"text"},
{"width":1,"height":1,"data":{"values":[]},"mark":"text"},
{"width":0.5,"height":13,"data":{"values":[]},"mark":"text","view":{"stroke":"#555555","strokeWidth":1.5}},

{"width":0.5,"height":127,"data":{"values":[]},"mark":"text","view":{"stroke":"#555555","strokeWidth":1.5}},
{"width":1,"height":1,"data":{"values":[]},"mark":"text"},
{"width":173,"height":127,"transform":[{"filter":"datum.k === 'A4a'"}],"encoding":{"x":{"field":"x","type":"quantitative","title":null,"scale":{"domain":[-3.42,3.42]},"axis":{"labels":true,"values":[-3.1416,3.1416],"labelExpr":"datum.value < 0 ? '\u2212\u03c0' : '\u03c0'","labelFont":"Liberation Serif","labelFontSize":28,"labelBaseline":"alphabetic","labelPadding":18,"labelAlign":"center","labelOffset":{"condition":{"test":"datum.value < 0","value":-8},"value":0}}},"y":{"field":"y","type":"quantitative","title":null,"scale":{"domain":[0.346,0.656]},"axis":{"labels":true,"values":[0.4,0.6],"format":".2f"}},"color":{"field":"g","type":"nominal","legend":null,"scale":{"domain":["h","m"],"range":["#000000","#999999"]}}},"layer":[{"mark":{"type":"errorbar","thickness":2.7},"encoding":{"yError":{"field":"e"}}},{"mark":{"type":"line","strokeWidth":3}}]},
{"width":1,"height":1,"data":{"values":[]},"mark":"text"},
{"width":173,"height":127,"transform":[{"filter":"datum.k === 'A4b'"}],"encoding":{"x":{"field":"x","type":"quantitative","title":null,"scale":{"domain":[-3.42,3.42]}},"y":{"field":"y","type":"quantitative","title":null,"scale":{"domain":[0.346,0.656]}},"color":{"field":"g","type":"nominal","legend":null,"scale":{"domain":["h","m"],"range":["#000000","#999999"]}}},"layer":[{"mark":{"type":"errorbar","thickness":2.7},"encoding":{"yError":{"field":"e"}}},{"mark":{"type":"line","strokeWidth":3}}]},
{"width":1,"height":1,"data":{"values":[]},"mark":"text"},
{"width":173,"height":127,"transform":[{"filter":"datum.k === 'B4a'"}],"encoding":{"x":{"field":"x","type":"quantitative","title":null,"scale":{"domain":[-3.42,3.42]},"axis":{"labels":true,"values":[-3.1416,3.1416],"labelExpr":"datum.value < 0 ? '\u2212\u03c0' : '\u03c0'","labelFont":"Liberation Serif","labelFontSize":28,"labelBaseline":"alphabetic","labelPadding":18,"labelAlign":"center","labelOffset":{"condition":{"test":"datum.value < 0","value":-8},"value":0}}},"y":{"field":"y","type":"quantitative","title":null,"scale":{"domain":[0.346,0.656]}},"color":{"field":"g","type":"nominal","legend":null,"scale":{"domain":["h","m"],"range":["#000000","#999999"]}}},"layer":[{"mark":{"type":"errorbar","thickness":2.7},"encoding":{"yError":{"field":"e"}}},{"mark":{"type":"line","strokeWidth":3}}]},
{"width":1,"height":1,"data":{"values":[]},"mark":"text"},
{"width":173,"height":127,"transform":[{"filter":"datum.k === 'B4b'"}],"encoding":{"x":{"field":"x","type":"quantitative","title":null,"scale":{"domain":[-3.42,3.42]}},"y":{"field":"y","type":"quantitative","title":null,"scale":{"domain":[0.346,0.656]}},"color":{"field":"g","type":"nominal","legend":null,"scale":{"domain":["h","m"],"range":["#000000","#999999"]}}},"layer":[{"mark":{"type":"errorbar","thickness":2.7},"encoding":{"yError":{"field":"e"}}},{"mark":{"type":"line","strokeWidth":3}}]},
{"width":1,"height":1,"data":{"values":[]},"mark":"text"},
{"width":0.5,"height":127,"data":{"values":[]},"mark":"text","view":{"stroke":"#555555","strokeWidth":1.5}},

{"width":0.5,"height":179,"data":{"values":[]},"mark":"text","view":{"stroke":"#555555","strokeWidth":1.5}},
{"width":147.5,"height":179,"data":{"values":[{}]},"layer":[
  {"mark":{"type":"text","text":"FIGURE 11 | Distributions of δ-phase at tone onset (a,b) for hits (black)","align":"left","fontWeight":"bold","fontSize":13.8,"dx":-49.25,"dy":25}},
  {"mark":{"type":"text","text":"and misses (gray), and of corresponding detection probabilities (c,d) in","align":"left","fontWeight":"bold","fontSize":13.8,"dx":-49.25,"dy":53}},
  {"mark":{"type":"text","text":"the irregular (a,c) and regular conditions (b,d) of Experiment 2","align":"left","fontWeight":"bold","fontSize":13.8,"dx":-49.25,"dy":81}},
  {"mark":{"type":"text","text":". Phases","align":"left","fontSize":15,"color":"#333333","dx":358,"dy":81}}
]},
{"width":1,"height":1,"data":{"values":[]},"mark":"text"},
{"width":18,"height":179,"data":{"values":[{}]},"mark":{"type":"text","text":"Phase (δ)","fontSize":31,"dx":11,"dy":-31.5}},
{"width":1,"height":1,"data":{"values":[]},"mark":"text"},
{"width":62,"height":179,"data":{"values":[{}]},"layer":[
  {"mark":{"type":"text","text":"extracted by causal and acausal algorithms are shown in","align":"left","fontSize":15.5,"color":"#333333","dx":15,"dy":25}},
  {"mark":{"type":"text","text":"(A,B)","align":"left","fontSize":15.5,"fontWeight":"bold","dx":408,"dy":25}},
  {"mark":{"type":"text","text":", respectively.","align":"left","fontSize":15.5,"color":"#333333","dx":445,"dy":25}},
  {"mark":{"type":"text","text":"Rows 1–2 show the results obtained by (1) BP (1–4 Hz) and HTF, and (2) FFT or","align":"left","fontSize":15.5,"color":"#333333","dx":15,"dy":53}},
  {"mark":{"type":"text","text":"WTF (both for a frequency of 2 Hz).","align":"left","fontSize":15.5,"color":"#333333","dx":15,"dy":81}}
]},
{"width":1,"height":1,"data":{"values":[]},"mark":"text"},
{"width":18,"height":179,"data":{"values":[{}]},"mark":{"type":"text","text":"Phase (δ)","fontSize":31,"dx":3,"dy":-31.5}},
{"width":1,"height":1,"data":{"values":[]},"mark":"text"},
{"width":1,"height":1,"data":{"values":[]},"mark":"text"},
{"width":0.5,"height":179,"data":{"values":[]},"mark":"text","view":{"stroke":"#555555","strokeWidth":1.5}},

{"width":0.5,"height":0.5,"data":{"values":[]},"mark":"text","view":{"stroke":"#555555","strokeWidth":1.5}},
{"width":147.5,"height":0.5,"data":{"values":[]},"mark":"text","view":{"stroke":"#555555","strokeWidth":1.5}},
{"width":173,"height":0.5,"data":{"values":[]},"mark":"text","view":{"stroke":"#555555","strokeWidth":1.5}},
{"width":18,"height":0.5,"data":{"values":[]},"mark":"text","view":{"stroke":"#555555","strokeWidth":1.5}},
{"width":173,"height":0.5,"data":{"values":[]},"mark":"text","view":{"stroke":"#555555","strokeWidth":1.5}},
{"width":62,"height":0.5,"data":{"values":[]},"mark":"text","view":{"stroke":"#555555","strokeWidth":1.5}},
{"width":173,"height":0.5,"data":{"values":[]},"mark":"text","view":{"stroke":"#555555","strokeWidth":1.5}},
{"width":18,"height":0.5,"data":{"values":[]},"mark":"text","view":{"stroke":"#555555","strokeWidth":1.5}},
{"width":173,"height":0.5,"data":{"values":[]},"mark":"text","view":{"stroke":"#555555","strokeWidth":1.5}},
{"width":217.5,"height":0.5,"data":{"values":[]},"mark":"text","view":{"stroke":"#555555","strokeWidth":1.5}},
{"width":0.5,"height":0.5,"data":{"values":[]},"mark":"text","view":{"stroke":"#555555","strokeWidth":1.5}}
]
}
